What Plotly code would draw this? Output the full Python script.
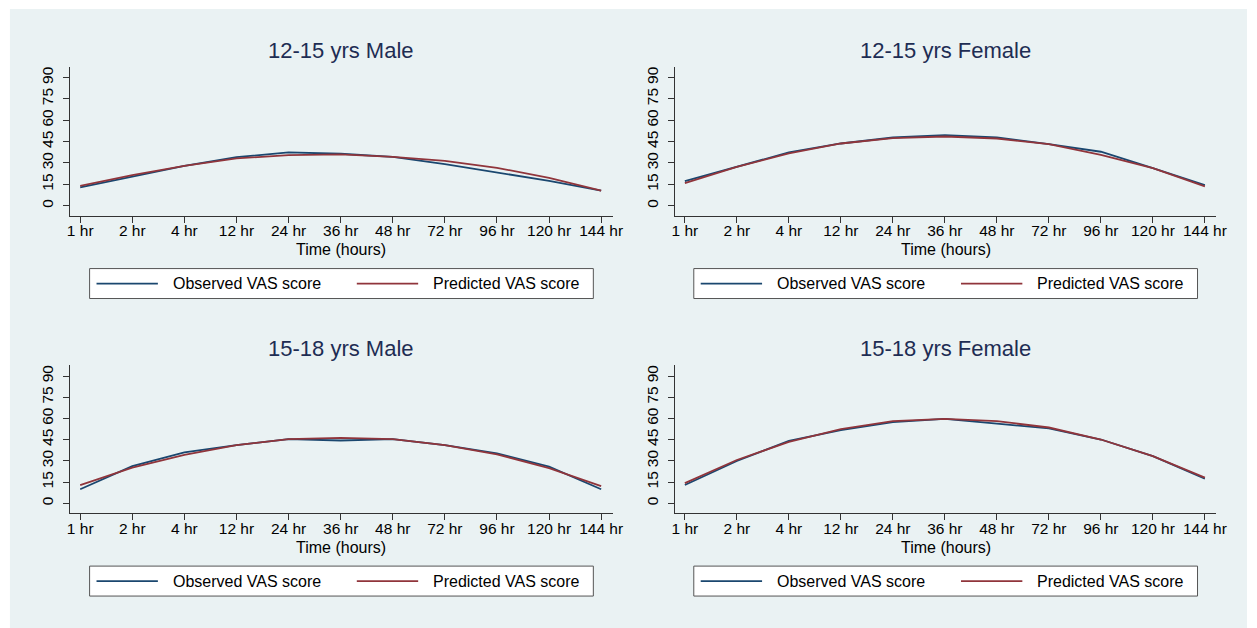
import plotly.graph_objects as go

# Time points (categorical x axis)
times = ["1 hr", "2 hr", "4 hr", "12 hr", "24 hr", "36 hr", "48 hr", "72 hr", "96 hr", "120 hr", "144 hr"]

# VAS scores per group
male_12_15_obs = [12.9, 20.6, 28.0, 34.1, 37.4, 36.5, 34.3, 29.2, 23.6, 17.5, 10.6]
male_12_15_pred = [14.0, 21.5, 28.0, 33.2, 35.5, 36.0, 34.3, 31.5, 26.6, 19.6, 10.6]

female_12_15_obs = [17.3, 27.3, 37.4, 43.7, 47.9, 49.5, 47.9, 43.2, 37.9, 26.4, 14.5]
female_12_15_pred = [15.9, 27.3, 36.7, 43.7, 47.4, 48.6, 47.2, 43.2, 35.7, 26.4, 13.6]

male_15_18_obs = [9.9, 26.3, 36.0, 41.1, 45.4, 44.4, 45.4, 41.1, 35.3, 25.9, 9.9]
male_15_18_pred = [12.9, 25.2, 34.3, 41.1, 45.4, 46.3, 45.4, 41.1, 34.6, 24.9, 12.2]

female_15_18_obs = [12.9, 29.9, 44.2, 51.7, 57.4, 59.7, 56.4, 52.9, 45.1, 33.4, 17.4]
female_15_18_pred = [14.3, 30.6, 43.5, 52.4, 58.1, 59.7, 58.1, 53.6, 45.1, 33.4, 18.1]

panel_titles = ["12-15 yrs Male", "12-15 yrs Female", "15-18 yrs Male", "15-18 yrs Female"]
series_names = ["Observed VAS score", "Predicted VAS score"]
y_ticks = [0, 15, 30, 45, 60, 75, 90]
grid_vals = [15, 30, 45, 60, 75]

panels = [
    (male_12_15_obs, male_12_15_pred),
    (female_12_15_obs, female_12_15_pred),
    (male_15_18_obs, male_15_18_pred),
    (female_15_18_obs, female_15_18_pred),
]

W, H = 1257, 628
OBS_COLOR = "#1a476f"
PRED_COLOR = "#90353b"
BG = "#eaf2f3"
TITLE_COLOR = "#1e2d53"
AXIS_COLOR = "#333333"
FONT = "Liberation Sans, Arial, sans-serif"

# pixel layout of each panel: (left, right, top, bottom)
boxes = [
    (68, 616, 66, 215),
    (679, 1226, 66, 215),
    (68, 616, 365, 513),
    (679, 1226, 365, 513),
]


def px_x(p):
    return p / W


def px_y(p):
    return 1 - p / H


fig = go.Figure()
layout = dict(
    width=W,
    height=H,
    margin=dict(l=0, r=0, t=0, b=0),
    paper_bgcolor="white",
    plot_bgcolor="white",
    showlegend=False,
    font=dict(family=FONT, color="#000000"),
)
shapes = []
annotations = []

# outer graph region background
shapes.append(dict(type="rect", xref="paper", yref="paper",
                   x0=px_x(7), x1=1, y0=0, y1=px_y(8),
                   fillcolor=BG, line=dict(width=0), layer="below"))

xvals = list(range(len(times)))

for i, ((obs, pred), title, (l, r, t, b)) in enumerate(zip(panels, panel_titles, boxes)):
    n = "" if i == 0 else str(i + 1)
    xa, ya = "x" + n, "y" + n
    fig.add_trace(go.Scatter(x=xvals, y=obs, mode="lines", name=series_names[0],
                             line=dict(color=OBS_COLOR, width=1.8),
                             xaxis=xa, yaxis=ya))
    fig.add_trace(go.Scatter(x=xvals, y=pred, mode="lines", name=series_names[1],
                             line=dict(color=PRED_COLOR, width=1.8),
                             xaxis=xa, yaxis=ya))

    layout["xaxis" + n] = dict(
        domain=[px_x(l), px_x(r)], anchor=ya, range=[-0.19, 10.22],
        tickmode="array", tickvals=xvals, ticktext=times,
        showgrid=False, zeroline=False, showline=True, linecolor=AXIS_COLOR, linewidth=1,
        ticks="outside", ticklen=6, tickcolor=AXIS_COLOR, tickwidth=1,
        ticklabelstandoff=-5,
        tickfont=dict(size=15.5, family=FONT, color="#000000"), fixedrange=True,
    )
    layout["yaxis" + n] = dict(
        domain=[px_y(b), px_y(t)], anchor=xa, range=[-7.0, 97.5],
        tickmode="array", tickvals=y_ticks, ticktext=[str(v) for v in y_ticks],
        tickangle=-90, showgrid=False, zeroline=False, showline=True,
        linecolor=AXIS_COLOR, linewidth=1, ticks="outside", ticklen=6,
        tickcolor=AXIS_COLOR, tickwidth=1, ticklabelstandoff=4,
        tickfont=dict(size=15.5, family=FONT, color="#000000"), fixedrange=True,
    )

    # horizontal grid lines
    for g in grid_vals:
        shapes.append(dict(type="line", xref=xa + " domain", yref=ya,
                           x0=0, x1=1, y0=g, y1=g,
                           line=dict(color=BG, width=1.6), layer="below"))

    cx = (l + r) / 2
    # panel title
    annotations.append(dict(text=title, xref="paper", yref="paper",
                            x=px_x(cx), y=px_y(t - 16.5), xanchor="center", yanchor="middle",
                            showarrow=False, font=dict(size=22, color=TITLE_COLOR, family=FONT)))
    # x axis title
    annotations.append(dict(text="Time (hours)", xref="paper", yref="paper",
                            x=px_x(cx), y=px_y(b + 34), xanchor="center", yanchor="middle",
                            showarrow=False, font=dict(size=16, color="#000000", family=FONT)))

    # legend box
    lx0, lx1 = cx - 254.5, cx + 254.5
    ly0, ly1 = b + 53, b + 83
    shapes.append(dict(type="rect", xref="paper", yref="paper",
                       x0=px_x(lx0), x1=px_x(lx1), y0=px_y(ly1), y1=px_y(ly0),
                       fillcolor="white", line=dict(color="#555555", width=1)))
    ly = (ly0 + ly1) / 2
    for k, (name, col) in enumerate(zip(series_names, [OBS_COLOR, PRED_COLOR])):
        s0 = lx0 + 7 + k * 263
        shapes.append(dict(type="line", xref="paper", yref="paper",
                           x0=px_x(s0), x1=px_x(s0 + 62), y0=px_y(ly), y1=px_y(ly),
                           line=dict(color=col, width=1.8)))
        annotations.append(dict(text=name, xref="paper", yref="paper",
                                x=px_x(s0 + 75), y=px_y(ly), xanchor="left", yanchor="middle",
                                showarrow=False, font=dict(size=16, color="#000000", family=FONT)))

layout["shapes"] = shapes
layout["annotations"] = annotations
fig.update_layout(**layout)

fig.write_html("out.html")
